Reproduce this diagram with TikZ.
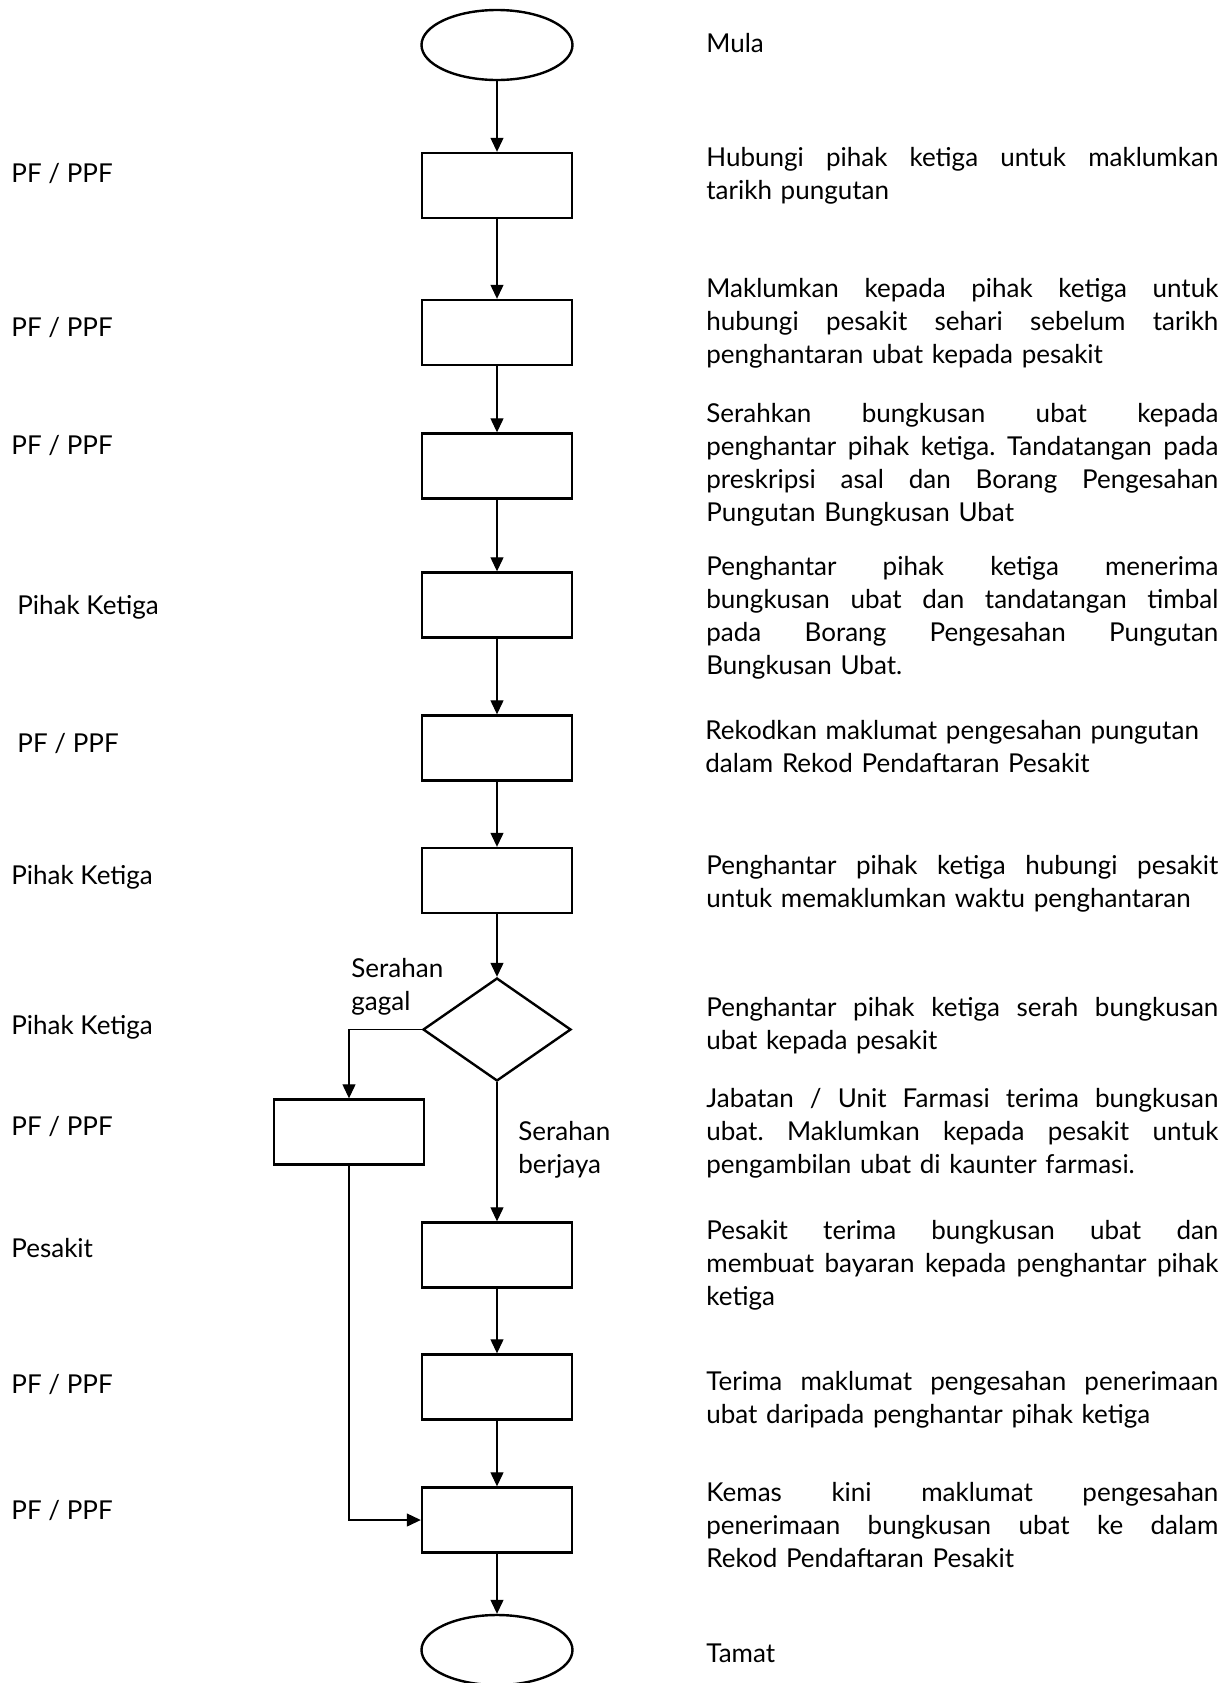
\documentclass[tikz,border=0pt]{standalone}
\usepackage{fontspec}
\setmainfont{Lato}
\usetikzlibrary{shapes.geometric,arrows.meta}
\newlength{\descw}
\setlength{\descw}{256pt}
\def\jlsplit#1 #2\jlend{#1\ifx\relax#2\relax\else\hfill\jlsplit#2\jlend\fi}
\newcommand{\jl}[1]{\leavevmode\hbox to \descw{\jlsplit#1 \jlend}\\}

\begin{document}
\begin{tikzpicture}[x=0.5pt,y=-0.5pt,
  font=\fontsize{13}{16.5}\selectfont,
  proc/.style={draw,line width=1.2pt,minimum width=75pt,minimum height=32.5pt,inner sep=0pt},
  term/.style={draw,ellipse,line width=1.2pt,minimum width=75.5pt,minimum height=35pt,inner sep=0pt},
  choice/.style={draw,diamond,line width=1.2pt,minimum width=74pt,minimum height=51.5pt,inner sep=0pt},
  arr/.style={-{Triangle[length=7pt,width=6.5pt]},line width=0.6pt},
  desc/.style={anchor=north west,inner sep=0pt,text width=\descw,align=left},
  role/.style={anchor=base west,inner sep=0pt}]
  \useasboundingbox (0,0) rectangle (1232,1683);

  \node[term] (mula) at (497,45) {};
  \node[proc] (s1) at (497,185.5) {};
  \node[proc] (s2) at (497,332.5) {};
  \node[proc] (s3) at (497,466) {};
  \node[proc] (s4) at (497,605) {};
  \node[proc] (s5) at (497,748) {};
  \node[proc] (s6) at (497,880.5) {};
  \node[choice] (dec) at (497,1029.5) {};
  \node[proc] (gagal) at (349,1132) {};
  \node[proc] (s7) at (497,1255) {};
  \node[proc] (s8) at (497,1387) {};
  \node[proc] (s9) at (497,1520) {};
  \node[term] (tamat) at (497,1650) {};

  \draw[arr] (mula) -- (s1);
  \draw[arr] (s1) -- (s2);
  \draw[arr] (s2) -- (s3);
  \draw[arr] (s3) -- (s4);
  \draw[arr] (s4) -- (s5);
  \draw[arr] (s5) -- (s6);
  \draw[arr] (s6) -- (dec);
  \draw[arr] (dec.west) -| (gagal.north);
  \draw[arr] (dec) -- (s7);
  \draw[arr] (s7) -- (s8);
  \draw[arr] (s8) -- (s9);
  \draw[arr] (gagal.south) |- (s9.west);
  \draw[arr] (s9) -- (tamat);

  \node[desc] (lgagal) at (351,958) {Serahan\\gagal};
  \node[desc] (lberjaya) at (518,1121) {Serahan\\berjaya};

  \node[role] (r1) at (11,182) {PF / PPF};
  \node[role] (r2) at (11,336) {PF / PPF};
  \node[role] (r3) at (11,454) {PF / PPF};
  \node[role] (r4) at (17,614) {Pihak Ketiga};
  \node[role] (r5) at (17,752) {PF / PPF};
  \node[role] (r6) at (11,884) {Pihak Ketiga};
  \node[role] (r7) at (11,1034) {Pihak Ketiga};
  \node[role] (r8) at (11,1135) {PF / PPF};
  \node[role] (r9) at (11,1257) {Pesakit};
  \node[role] (r10) at (11,1393) {PF / PPF};
  \node[role] (r11) at (11,1519) {PF / PPF};

  \node[role] (t0) at (706,52) {Mula};
  \node[desc] (t1) at (706,147) {\jl{Hubungi pihak ketiga untuk maklumkan}tarikh pungutan};
  \node[desc] (t2) at (706,278) {\jl{Maklumkan kepada pihak ketiga untuk}\jl{hubungi pesakit sehari sebelum tarikh}penghantaran ubat kepada pesakit};
  \node[desc] (t3) at (706,403) {\jl{Serahkan bungkusan ubat kepada}\jl{penghantar pihak ketiga. Tandatangan pada}\jl{preskripsi asal dan Borang Pengesahan}Pungutan Bungkusan Ubat};
  \node[desc] (t4) at (706,556) {\jl{Penghantar pihak ketiga menerima}\jl{bungkusan ubat dan tandatangan timbal}\jl{pada Borang Pengesahan Pungutan}Bungkusan Ubat.};
  \node[desc] (t5) at (705,720) {Rekodkan maklumat pengesahan pungutan\\dalam Rekod Pendaftaran Pesakit};
  \node[desc] (t6) at (706,855) {\jl{Penghantar pihak ketiga hubungi pesakit}untuk memaklumkan waktu penghantaran};
  \node[desc] (t7) at (706,997) {\jl{Penghantar pihak ketiga serah bungkusan}ubat kepada pesakit};
  \node[desc] (t8) at (706,1088) {\jl{Jabatan / Unit Farmasi terima bungkusan}\jl{ubat. Maklumkan kepada pesakit untuk}pengambilan ubat di kaunter farmasi.};
  \node[desc] (t9) at (706,1220) {\jl{Pesakit terima bungkusan ubat dan}\jl{membuat bayaran kepada penghantar pihak}ketiga};
  \node[desc] (t10) at (706,1371) {\jl{Terima maklumat pengesahan penerimaan}ubat daripada penghantar pihak ketiga};
  \node[desc] (t11) at (706,1482) {\jl{Kemas kini maklumat pengesahan}\jl{penerimaan bungkusan ubat ke dalam}Rekod Pendaftaran Pesakit};
  \node[role] (t12) at (706,1662) {Tamat};
\end{tikzpicture}
\end{document}
